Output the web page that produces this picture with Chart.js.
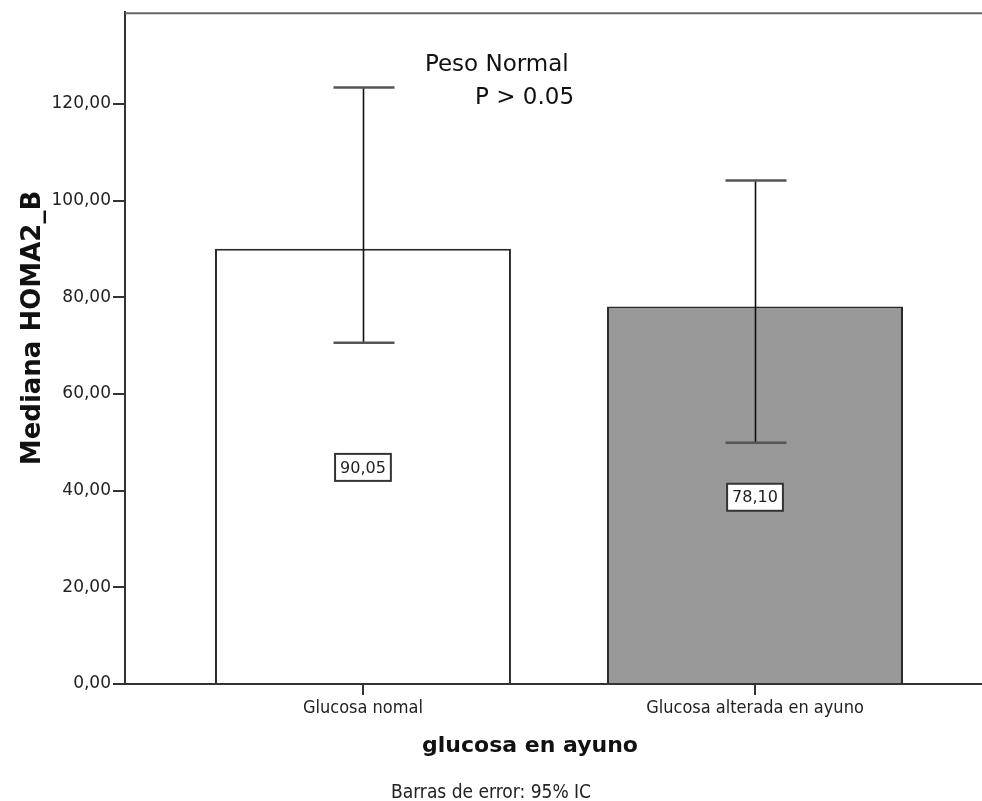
<!DOCTYPE html>
<html>
<head>
<meta charset="utf-8">
<script src="https://cdn.jsdelivr.net/npm/chart.js@4.4.1/dist/chart.umd.min.js"></script>
<style>
  html, body { margin: 0; padding: 0; background: #ffffff; }
  canvas { display: block; }
</style>
</head>
<body>
<canvas id="chart" width="982" height="801"></canvas>
<script>
// Median HOMA2_B by fasting glucose group, with 95% confidence intervals
const categories = ['Glucosa nomal', 'Glucosa alterada en ayuno'];
const medians = [90.05, 78.10];
const ciLower = [70.6, 49.9];
const ciUpper = [123.4, 104.2];
const barColors = ['#ffffff', '#999999'];
const yTicks = [0, 20, 40, 60, 80, 100, 120];
const yAxisTitle = 'Mediana HOMA2_B';
const xAxisTitle = 'glucosa en ayuno';
const noteLines = ['Peso Normal', 'P > 0.05'];
const footnote = 'Barras de error: 95% IC';

const fmt = v => v.toFixed(2).replace('.', ',');

// Error bars, boxed value labels and the surrounding texts
const decorations = {
  id: 'decorations',
  afterDatasetsDraw(chart) {
    const { ctx } = chart;
    const ys = chart.scales.y;
    const meta = chart.getDatasetMeta(0);

    // boxed median labels at half height of each bar
    ctx.save();
    ctx.font = '16px "DejaVu Sans"';
    ctx.textAlign = 'center';
    ctx.textBaseline = 'middle';
    medians.forEach((m, i) => {
      const bar = meta.data[i];
      const label = m.toFixed(2).replace('.', ',');
      const cy = ys.getPixelForValue(m / 2) + (i === 1 ? 2 : 1);
      const w = ctx.measureText(label).width + 10;
      const h = 27;
      ctx.fillStyle = '#ffffff';
      ctx.fillRect(bar.x - w / 2, cy - h / 2, w, h);
      ctx.strokeStyle = '#333333';
      ctx.lineWidth = 2;
      ctx.strokeRect(bar.x - w / 2, cy - h / 2, w, h);
      ctx.fillStyle = '#222222';
      ctx.fillText(label, bar.x, cy + 1);
    });

    // confidence interval whiskers
    medians.forEach((m, i) => {
      const x = Math.round(meta.data[i].x) + 0.5;
      const yHi = ys.getPixelForValue(ciUpper[i]);
      const yLo = ys.getPixelForValue(ciLower[i]);
      ctx.strokeStyle = '#111111';
      ctx.lineWidth = 1.6;
      ctx.beginPath();
      ctx.moveTo(x, yHi);
      ctx.lineTo(x, yLo);
      ctx.stroke();
      ctx.strokeStyle = '#555555';
      ctx.lineWidth = 2.5;
      [yHi, yLo].forEach(y => {
        ctx.beginPath();
        ctx.moveTo(x - 30, y);
        ctx.lineTo(x + 31, y);
        ctx.stroke();
      });
    });
    ctx.restore();
  },
  afterDraw(chart) {
    const { ctx, chartArea } = chart;
    const xs = chart.scales.x, ys = chart.scales.y;
    ctx.save();

    // top frame line
    ctx.strokeStyle = '#666666';
    ctx.lineWidth = 2;
    ctx.beginPath();
    ctx.moveTo(chartArea.left, chartArea.top + 1);
    ctx.lineTo(chartArea.right, chartArea.top + 1);
    ctx.stroke();

    // note in the upper part of the plot
    ctx.fillStyle = '#111111';
    ctx.font = '23px "DejaVu Sans"';
    ctx.textAlign = 'left';
    ctx.textBaseline = 'middle';
    ctx.fillText(noteLines[0], xs.getPixelForValue(0.158), ys.getPixelForValue(128.0));
    ctx.fillText(noteLines[1], xs.getPixelForValue(0.286), ys.getPixelForValue(121.3));

    // y axis title
    ctx.save();
    ctx.translate(33, 328);
    ctx.rotate(-Math.PI / 2);
    ctx.textAlign = 'center';
    ctx.textBaseline = 'middle';
    ctx.font = 'bold 26px "DejaVu Sans"';
    ctx.fillText(yAxisTitle, 0, 0);
    ctx.restore();

    // x axis title
    ctx.textAlign = 'center';
    ctx.textBaseline = 'middle';
    ctx.font = 'bold 22px "DejaVu Sans"';
    ctx.fillText(xAxisTitle, 530, 746);

    // footnote
    ctx.fillStyle = '#222222';
    ctx.font = '19px "DejaVu Sans Condensed"';
    ctx.fillText(footnote, 491, 793);
    ctx.restore();
  }
};

new Chart(document.getElementById('chart'), {
  type: 'bar',
  data: {
    datasets: [{
      data: categories.map((c, i) => ({ x: i, y: medians[i] })),
      backgroundColor: barColors,
      borderColor: '#2a2a2a',
      borderWidth: 2,
      barPercentage: 0.755,
      categoryPercentage: 1
    }]
  },
  options: {
    responsive: false,
    animation: false,
    layout: { padding: { top: 11, left: 0, right: 0, bottom: 0 } },
    plugins: {
      legend: { display: false },
      tooltip: { enabled: false }
    },
    scales: {
      x: {
        type: 'linear',
        offset: false,
        min: -0.607,
        max: 1.579,
        afterBuildTicks: s => { s.ticks = categories.map((_, i) => ({ value: i })); },
        afterFit: s => { s.height = 117; },
        grid: { offset: false, drawOnChartArea: false, tickLength: 11, color: '#333333', lineWidth: 2 },
        border: { color: '#333333', width: 2 },
        ticks: {
          autoSkip: false,
          maxRotation: 0,
          padding: 3,
          color: '#222222',
          font: { family: 'DejaVu Sans Condensed', size: 18 },
          callback: v => categories[v] ?? ''
        }
      },
      y: {
        min: 0,
        max: 139,
        afterBuildTicks: s => { s.ticks = yTicks.map(v => ({ value: v })); },
        afterFit: s => { s.width = 125; },
        grid: { drawOnChartArea: false, tickLength: 12, color: '#333333', lineWidth: 2 },
        border: { color: '#333333', width: 2 },
        ticks: {
          padding: 2,
          color: '#222222',
          font: { family: 'DejaVu Sans', size: 17 },
          callback: v => fmt(v)
        }
      }
    }
  },
  plugins: [decorations]
});
</script>
</body>
</html>
